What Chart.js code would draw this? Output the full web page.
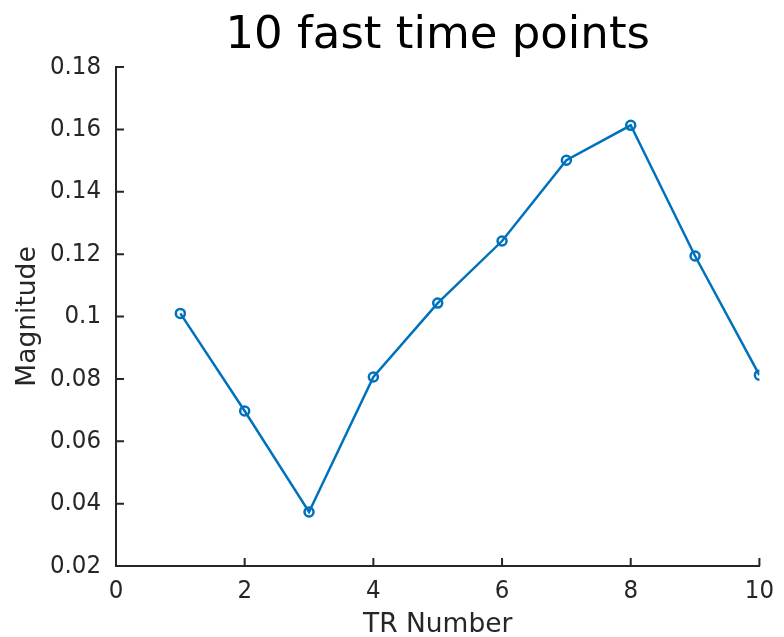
<!DOCTYPE html>
<html>
<head>
<meta charset="utf-8">
<script src="https://cdn.jsdelivr.net/npm/chart.js@4"></script>
<style>
  html, body { margin: 0; padding: 0; background: #fff; }
  #wrap { width: 784px; height: 637px; }
</style>
</head>
<body>
<div id="wrap"><canvas id="magChart"></canvas></div>
<script>
// values
const trNumbers = [1, 2, 3, 4, 5, 6, 7, 8, 9, 10];
const magnitudes = [0.101, 0.0697, 0.0373, 0.0806, 0.1043, 0.1242, 0.1501, 0.1613, 0.1194, 0.0812];
const titleText = "10 fast time points";
const xLabel = "TR Number";
const yLabel = "Magnitude";

const axisColor = "#262626";
const lineColor = "#0072BD";
const tickFont = "'DejaVu Sans Condensed', 'DejaVu Sans', sans-serif";
const labelFont = "'DejaVu Sans', sans-serif";

// MATLAB style: ticks pointing into the plot, title over the axes box
const matlabBits = {
  id: "matlabBits",
  afterDraw(chart) {
    const { ctx, chartArea, scales } = chart;
    ctx.save();
    ctx.strokeStyle = axisColor;
    ctx.lineWidth = 2;
    ctx.beginPath();
    scales.x.ticks.forEach(t => {
      const px = scales.x.getPixelForValue(t.value);
      ctx.moveTo(px, chartArea.bottom);
      ctx.lineTo(px, chartArea.bottom - 8);
    });
    scales.y.ticks.forEach(t => {
      const py = scales.y.getPixelForValue(t.value);
      ctx.moveTo(chartArea.left, py);
      ctx.lineTo(chartArea.left + 8, py);
    });
    ctx.stroke();

    ctx.fillStyle = "#000";
    ctx.font = "45px " + labelFont;
    ctx.textAlign = "center";
    ctx.textBaseline = "alphabetic";
    ctx.fillText(titleText, (chartArea.left + chartArea.right) / 2, 48);
    ctx.restore();
  }
};

new Chart(document.getElementById("magChart"), {
  type: "line",
  data: {
    datasets: [{
      data: trNumbers.map((x, i) => ({ x, y: magnitudes[i] })),
      borderColor: lineColor,
      borderWidth: 2.5,
      pointStyle: "circle",
      pointRadius: 4.5,
      pointBorderWidth: 2.5,
      pointBorderColor: lineColor,
      pointBackgroundColor: "rgba(0,0,0,0)",
      tension: 0
    }]
  },
  options: {
    responsive: true,
    maintainAspectRatio: false,
    animation: false,
    layout: { padding: { top: 67, right: 24, left: 0, bottom: 0 } },
    plugins: {
      legend: { display: false },
      tooltip: { enabled: false },
      title: { display: false }
    },
    scales: {
      x: {
        type: "linear",
        min: 0,
        max: 10,
        afterFit: s => { s.height = 71; },
        grid: { display: false, drawTicks: false },
        border: { display: true, color: axisColor, width: 2 },
        ticks: {
          stepSize: 2,
          padding: 10,
          color: axisColor,
          font: { family: tickFont, size: 25.5 }
        },
        title: {
          display: true,
          text: xLabel,
          color: axisColor,
          font: { family: labelFont, size: 26.5, lineHeight: 0.9 },
          padding: { top: 0, bottom: 0 }
        }
      },
      y: {
        min: 0.02,
        max: 0.18,
        afterFit: s => { s.width = 116; },
        grid: { display: false, drawTicks: false },
        border: { display: true, color: axisColor, width: 2 },
        ticks: {
          stepSize: 0.02,
          padding: 15,
          color: axisColor,
          font: { family: tickFont, size: 25.5 },
          callback: v => String(Number(v.toFixed(2)))
        },
        title: {
          display: true,
          text: yLabel,
          color: axisColor,
          font: { family: labelFont, size: 26.5, lineHeight: 0.9 },
          padding: { top: 16, bottom: 0 }
        }
      }
    }
  },
  plugins: [matlabBits]
});
</script>
</body>
</html>
